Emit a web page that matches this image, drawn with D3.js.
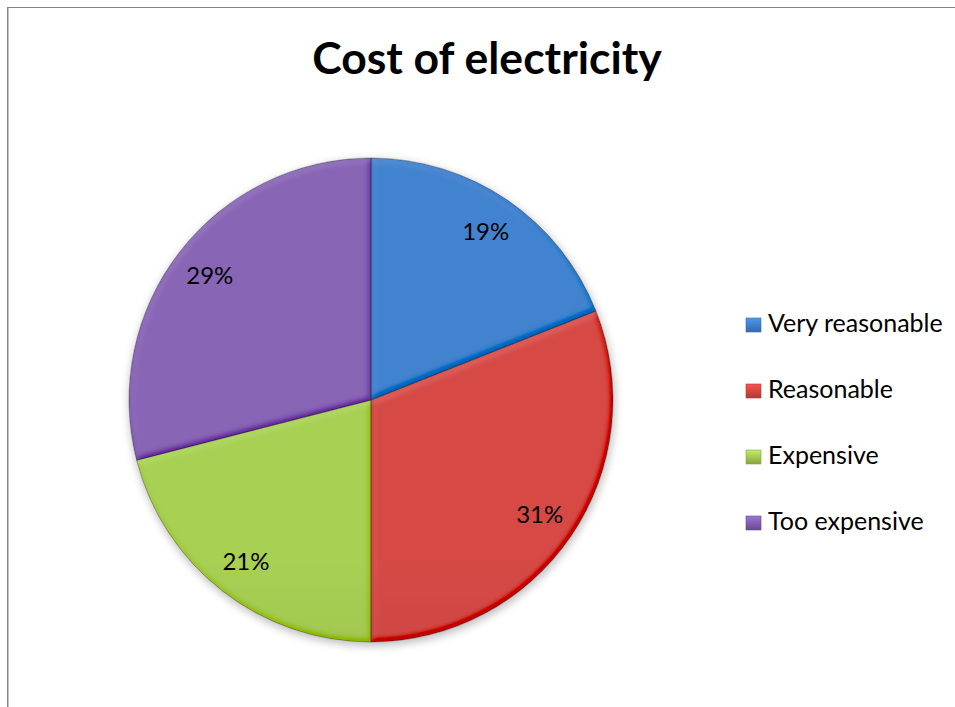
<!DOCTYPE html>
<html>
<head>
<meta charset="utf-8">
<script src="https://cdn.jsdelivr.net/npm/d3@7"></script>
<style>
  html, body { margin: 0; padding: 0; background: #ffffff; }
  svg { display: block; }
  text { font-family: Lato, "Open Sans", sans-serif; fill: #000; }
</style>
</head>
<body>
<svg id="chart" width="955" height="707"></svg>
<script>
// Survey answers: how people rate the cost of electricity
const categories = ["Very reasonable", "Reasonable", "Expensive", "Too expensive"];
const shares = [19, 31, 21, 29];
const topColors = ["#4283cf", "#d64a46", "#a8d054", "#8865b5"];
const bottomColors = ["#316bb0", "#b23734", "#88a343", "#684a8f"];
const title = "Cost of electricity";

const W = 955, H = 707;
const cx = 371, cy = 400, R = 242;

const svg = d3.select("#chart");
const defs = svg.append("defs");

// Chart frame (top and left edges are visible)
svg.append("line").attr("x1", 7).attr("x2", W).attr("y1", 7.5).attr("y2", 7.5)
  .attr("stroke", "#858585").attr("stroke-width", 1);
svg.append("line").attr("x1", 7.5).attr("x2", 7.5).attr("y1", 7).attr("y2", H)
  .attr("stroke", "#858585").attr("stroke-width", 1);
svg.append("line").attr("x1", 8.5).attr("x2", 8.5).attr("y1", 8).attr("y2", H)
  .attr("stroke", "#c4c4c4").attr("stroke-width", 1);

// Title
svg.append("text")
  .attr("x", 487).attr("y", 74)
  .attr("text-anchor", "middle")
  .attr("font-weight", 700)
  .attr("font-size", 44.5)
  .text(title);

// Vertical shading gradient per slice
const grads = categories.map((c, i) => {
  const id = "grad" + i;
  const g = defs.append("linearGradient").attr("id", id)
    .attr("gradientUnits", "userSpaceOnUse")
    .attr("x1", 0).attr("x2", 0).attr("y1", cy - R).attr("y2", cy + R);
  g.append("stop").attr("offset", "0%").attr("stop-color", topColors[i]);
  g.append("stop").attr("offset", "100%").attr("stop-color", bottomColors[i]);
  return id;
});

// Soft rounded bevel on every slice
const bevel = defs.append("filter").attr("id", "bevel")
  .attr("x", "-10%").attr("y", "-10%").attr("width", "120%").attr("height", "120%");
bevel.append("feGaussianBlur").attr("in", "SourceAlpha").attr("stdDeviation", 3).attr("result", "blur");
const diff = bevel.append("feDiffuseLighting").attr("in", "blur")
  .attr("surfaceScale", 4).attr("diffuseConstant", 0.5 / Math.sin(55 * Math.PI / 180))
  .attr("lighting-color", "#ffffff").attr("result", "light");
diff.append("feDistantLight").attr("azimuth", 240).attr("elevation", 55);
bevel.append("feComposite").attr("in", "SourceGraphic").attr("in2", "light")
  .attr("operator", "arithmetic").attr("k1", 0).attr("k2", 1).attr("k3", 0.3).attr("k4", -0.15)
  .attr("result", "lit");
bevel.append("feComposite").attr("in", "lit").attr("in2", "SourceAlpha").attr("operator", "in");

// Drop shadow under the pie
const shadow = defs.append("filter").attr("id", "shadow")
  .attr("x", "-20%").attr("y", "-20%").attr("width", "140%").attr("height", "140%");
shadow.append("feGaussianBlur").attr("stdDeviation", 4);

const pie = d3.pie().sort(null).value(d => d)(shares);
const arc = d3.arc().innerRadius(0).outerRadius(R);
const labelArc = d3.arc().innerRadius(204).outerRadius(204);

const g = svg.append("g").attr("transform", `translate(${cx},${cy})`);

g.append("circle").attr("cx", 1).attr("cy", 3).attr("r", R + 1)
  .attr("fill", "#000").attr("opacity", 0.25).attr("filter", "url(#shadow)");

g.selectAll("path.slice").data(pie).join("path")
  .attr("class", "slice")
  .attr("d", arc)
  .attr("fill", (d, i) => `url(#${grads[i]})`)
  .attr("filter", "url(#bevel)");

g.selectAll("path.edge").data(pie).join("path")
  .attr("class", "edge")
  .attr("d", arc)
  .attr("fill", "none")
  .attr("stroke", "#000")
  .attr("stroke-opacity", 0.4)
  .attr("stroke-width", 0.7);

g.selectAll("text.lbl").data(pie).join("text")
  .attr("class", "lbl")
  .attr("transform", d => `translate(${labelArc.centroid(d)})`)
  .attr("text-anchor", "middle")
  .attr("dy", "0.36em")
  .attr("font-size", 24)
  .text(d => d.data + "%");

// Legend
categories.forEach((c, i) => {
  const lg = defs.append("linearGradient").attr("id", "lg" + i)
    .attr("x1", 0).attr("x2", 0).attr("y1", 0).attr("y2", 1);
  lg.append("stop").attr("offset", "0%").attr("stop-color", d3.color(topColors[i]).brighter(0.4));
  lg.append("stop").attr("offset", "100%").attr("stop-color", bottomColors[i]);
});
const legend = svg.append("g");
const rows = legend.selectAll("g").data(categories).join("g")
  .attr("transform", (d, i) => `translate(746, ${318 + i * 66})`);
rows.append("rect").attr("width", 15).attr("height", 14)
  .attr("fill", (d, i) => `url(#lg${i})`)
  .attr("stroke", (d, i) => bottomColors[i]).attr("stroke-width", 0.6);
rows.append("text").attr("x", 22).attr("y", 14).attr("font-size", 25).text(d => d);
</script>
</body>
</html>
